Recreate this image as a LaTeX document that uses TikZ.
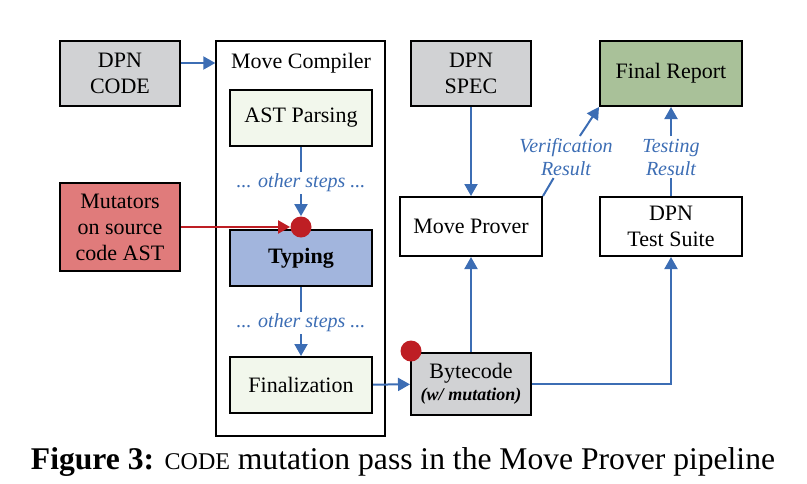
\documentclass[tikz,border=0pt]{standalone}
\usepackage{fontspec}
\setmainfont{Liberation Serif}
\usetikzlibrary{arrows.meta}

\definecolor{boxgray}{HTML}{D1D2D4}
\definecolor{stepgreen}{HTML}{F2F7EC}
\definecolor{typeblue}{HTML}{A2B5DD}
\definecolor{mutred}{HTML}{E07B7B}
\definecolor{reportgreen}{HTML}{A9C199}
\definecolor{flowblue}{HTML}{3C6DB4}
\definecolor{dotred}{HTML}{BE1E24}

\begin{document}
\begin{tikzpicture}[x=0.5pt, y=-0.5pt,
	box/.style={draw=black, line width=1pt, align=center, inner sep=1pt, font=\fontsize{11}{13}\selectfont},
	wide/.style={minimum width=71pt, minimum height=28pt},
	narrow/.style={minimum width=60pt, minimum height=32.5pt},
	flow/.style={draw=flowblue, line width=1pt, -{Triangle[length=6pt,width=6.5pt]}},
	note/.style={text=flowblue, font=\fontsize{10}{11.5}\selectfont\itshape, align=center, inner sep=1pt},
	mark dot/.style={circle, fill=dotred, minimum size=10.5pt, inner sep=0pt}]

	\useasboundingbox (0,0) rectangle (807,483);

	% left inputs
	\node[box, narrow, fill=boxgray] (code) at (120, 73.5)   {DPN\\CODE};
	\node[box, minimum width=60pt, minimum height=44pt, fill=mutred] (mut) at (120, 227)   {Mutators\\on source\\code AST};

	% compiler
	\node[draw=black, line width=0.7pt, minimum width=84.5pt, minimum height=197.5pt] (mc) at (300.5, 238.5) {};
	\node[font=\fontsize{11}{13}\selectfont] (mctitle) at (301, 63)   {Move Compiler};
	\node[box, wide, fill=stepgreen] (ast) at (301, 118)   {AST Parsing};
	\node[note] (steps1) at (301, 183)   {... other steps ...};
	\node[box, wide, fill=typeblue, font=\fontsize{11}{13}\selectfont\bfseries] (typ) at (301, 258)   {Typing};
	\node[mark dot] (dot1) at (301, 227)   {};
	\node[note] (steps2) at (301, 323)   {... other steps ...};
	\node[box, wide, fill=stepgreen] (fin) at (301, 385)   {Finalization};

	% prover and tests
	\node[box, narrow, fill=boxgray] (spec) at (471, 73.5)   {DPN\\SPEC};
	\node[box, minimum width=71pt, minimum height=32.5pt, fill=reportgreen] (report) at (671, 73.5)   {Final Report};
	\node[box, minimum width=71pt, minimum height=29.5pt] (prover) at (471, 226.5)   {Move Prover};
	\node[box, minimum width=71pt, minimum height=29.5pt] (suite) at (671, 226.5)   {DPN\\Test Suite};
	\node[box, minimum width=60pt, minimum height=31pt, fill=boxgray] (bc) at (471, 384)   {Bytecode\\[-2pt]{\fontsize{9}{10}\selectfont\bfseries\itshape(w/ mutation)}};
	\node[mark dot] (dot2) at (411, 351)   {};

	\node[note] (vres) at (566, 157)   {Verification\\Result};
	\node[note] (tres) at (671, 157)   {Testing\\Result};

	% connectors
	\path[flow] (code.east |- mctitle) -- (mc.west |- mctitle);
	\draw[draw=flowblue, line width=1pt] (ast) -- (steps1);
	\path[flow] (steps1) -- (dot1);
	\path[draw=dotred, line width=1pt, -{Triangle[length=6pt,width=6.5pt]}] (mut) -- (dot1);
	\draw[draw=flowblue, line width=1pt] (typ) -- (steps2);
	\path[flow] (steps2) -- (fin);
	\path[flow] (fin) -- (bc);
	\path[flow] (bc) -- (prover);
	\path[flow] (bc.east) -| (suite.south);
	\path[flow] (spec) -- (prover);
	\draw[draw=flowblue, line width=1pt] (prover.north east) -- (vres);
	\path[flow] (vres) -- (report.south west);
	\draw[draw=flowblue, line width=1pt] (suite) -- (tres);
	\path[flow] (tres) -- (report);

	% caption
	\node[font=\fontsize{15.8}{19}\selectfont] (caption) at (403, 462)   {\textbf{Figure 3:} {\fontsize{12}{14}\selectfont CODE} mutation pass in the Move Prover pipeline};

\end{tikzpicture}
\end{document}
